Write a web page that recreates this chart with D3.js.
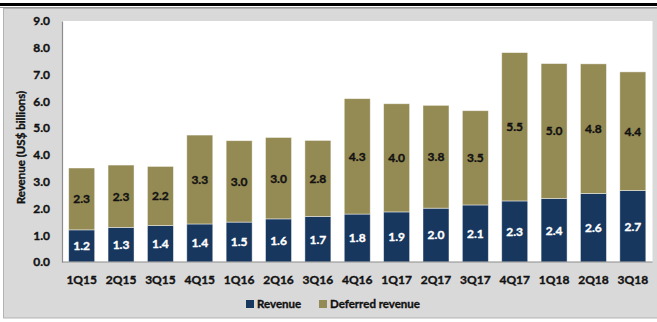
<!DOCTYPE html>
<html>
<head>
<meta charset="utf-8">
<script src="https://cdn.jsdelivr.net/npm/d3@7/dist/d3.min.js"></script>
<style>
  html, body { margin: 0; padding: 0; background: #ffffff; }
  svg { display: block; }
  text { font-family: Lato, "Open Sans", sans-serif; font-weight: bold; }
</style>
</head>
<body>
<svg id="chart" width="657" height="322"></svg>
<script>
const categories = ["1Q15","2Q15","3Q15","4Q15","1Q16","2Q16","3Q16","4Q16","1Q17","2Q17","3Q17","4Q17","1Q18","2Q18","3Q18"];
const revenue  = [1.20,1.29,1.36,1.42,1.49,1.61,1.70,1.79,1.87,2.01,2.13,2.28,2.37,2.56,2.67];
const deferred = [2.31,2.33,2.21,3.32,3.04,3.04,2.84,4.31,4.04,3.84,3.52,5.54,5.04,4.84,4.43];
const yTicks = [0,1,2,3,4,5,6,7,8,9];
const seriesNames = ["Revenue","Deferred revenue"];
const colors = ["#17375E","#948A54"];
const labelColors = ["#ffffff","#111111"];

const svg = d3.select("#chart");
const W = 657, H = 322;

// frame
svg.append("rect").attr("x",0).attr("y",3).attr("width",W).attr("height",3).attr("fill","#000");
svg.append("line").attr("x1",0).attr("x2",W).attr("y1",7.5).attr("y2",7.5).attr("stroke","#9a9a9a").attr("stroke-width",1);
svg.append("rect").attr("x",3.5).attr("y",8.5).attr("width",W+10).attr("height",309.5)
  .attr("fill","#d9d9d9").attr("stroke","#b3b3b3").attr("stroke-width",1);

const plot = {left:62, right:652.5, top:21, bottom:262};
svg.append("rect").attr("x",plot.left).attr("y",plot.top)
  .attr("width",plot.right-plot.left).attr("height",plot.bottom-plot.top).attr("fill","#ffffff");

const x = d3.scaleBand().domain(categories).range([plot.left, plot.right]).paddingInner(0.34).paddingOuter(0.17);
const y = d3.scaleLinear().domain([0,9]).range([plot.bottom, plot.top]);

const table = categories.map((c,i)=>({cat:c, Revenue:revenue[i], "Deferred revenue":deferred[i]}));
const stacked = d3.stack().keys(seriesNames)(table);

const groups = svg.append("g").selectAll("g").data(stacked).join("g")
  .attr("fill",(d,i)=>colors[i]);
groups.selectAll("rect").data(d=>d).join("rect")
  .attr("x",d=>x(d.data.cat))
  .attr("y",d=>y(d[1]))
  .attr("width",x.bandwidth())
  .attr("height",d=>y(d[0])-y(d[1]))
  .attr("stroke","rgba(255,255,255,0.55)")
  .attr("stroke-width",0.8);

const thick = sel => sel.attr("stroke", function(){ return d3.select(this).attr("fill"); })
  .attr("stroke-width",0.35).style("paint-order","stroke");

// data labels
stacked.forEach((s,si)=>{
  svg.append("g").selectAll("text").data(s).join("text")
    .attr("x",d=>x(d.data.cat)+x.bandwidth()/2)
    .attr("y",d=>(y(d[0])+y(d[1]))/2)
    .attr("dy","0.36em")
    .attr("text-anchor","middle")
    .attr("font-size","12px")
    .attr("fill",labelColors[si])
    .text(d=>d3.format(".1f")(d[1]-d[0]))
    .call(thick);
});

// axes
const yAxis = d3.axisLeft(y).tickValues(yTicks).tickFormat(d3.format(".1f")).tickSize(0).tickPadding(12);
const gy = svg.append("g").attr("transform",`translate(${plot.left},0)`).call(yAxis);
gy.select(".domain").attr("stroke","#8c8c8c").attr("stroke-width",1.2);
gy.selectAll("text").attr("font-size","12px").attr("fill","#111").style("font-family","Lato, sans-serif").style("font-weight","bold").call(thick);

const xAxis = d3.axisBottom(x).tickSize(0).tickPadding(13);
const gx = svg.append("g").attr("transform",`translate(0,${plot.bottom})`).call(xAxis);
gx.select(".domain").attr("stroke","#8c8c8c").attr("stroke-width",1.2).attr("d",`M${plot.left},0H${plot.right}`);
gx.selectAll("text").attr("font-size","12px").attr("fill","#111").style("font-family","Lato, sans-serif").style("font-weight","bold").call(thick);

// y title
svg.append("text")
  .attr("transform",`translate(25,${(plot.top+plot.bottom)/2+6}) rotate(-90)`)
  .attr("text-anchor","middle")
  .attr("font-size","11.5px")
  .attr("fill","#111")
  .text("Revenue (US$ billions)")
  .call(thick);

// legend
const legend = [{name:"Revenue", x:246, color:colors[0]}, {name:"Deferred revenue", x:319, color:colors[1]}];
const lg = svg.append("g").selectAll("g").data(legend).join("g")
  .attr("transform",d=>`translate(${d.x},304)`);
lg.append("rect").attr("x",0).attr("y",-4).attr("width",8).attr("height",8).attr("fill",d=>d.color);
lg.append("text").attr("x",11).attr("y",0).attr("dy","0.36em").attr("font-size","11.5px").attr("fill","#111").text(d=>d.name).call(thick);
</script>
</body>
</html>
